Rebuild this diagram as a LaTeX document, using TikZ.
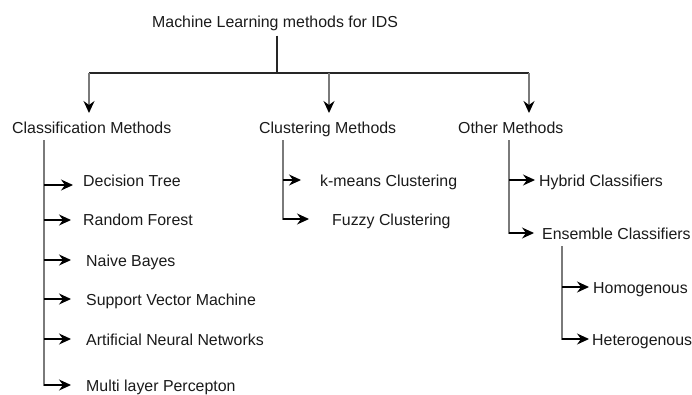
\documentclass[tikz,border=0pt]{standalone}
\usepackage{fontspec}
\setmainfont{Liberation Sans}
\usetikzlibrary{arrows.meta}
\definecolor{txt}{HTML}{1A1A1A}
\definecolor{ln}{HTML}{7A7A7A}
\tikzset{
  lbl/.style={anchor=base west,inner sep=0pt,text=txt,font=\fontsize{15.9}{18}\selectfont},
  wire/.style={draw=ln,line width=1.8pt},
  tipd/.style={-{Stealth[length=12pt,width=11pt,inset=4pt,color=black]}},
  arr/.style={draw=black,line width=1.1pt,tipd},
  varr/.style={wire,line width=1.5pt,tipd},
}
\begin{document}
\begin{tikzpicture}[x=1pt,y=-1pt]
\useasboundingbox (0,0) rectangle (692,394);
% nodes
\node[lbl] (title) at (152,27) {Machine Learning methods for IDS};
\node[lbl] (cls) at (12,133) {Classification Methods};
\node[lbl] (clu) at (259,133) {Clustering Methods};
\node[lbl] (oth) at (458,133) {Other Methods};
\node[lbl] (dt) at (83,186) {Decision Tree};
\node[lbl] (rf) at (83,225) {Random Forest};
\node[lbl] (nb) at (86,266) {Naive Bayes};
\node[lbl] (svm) at (86,305) {Support Vector Machine};
\node[lbl] (ann) at (86,345) {Artificial Neural Networks};
\node[lbl] (mlp) at (86,391) {Multi layer Percepton};
\node[lbl] (km) at (320,186) {k-means Clustering};
\node[lbl] (fz) at (332,225) {Fuzzy Clustering};
\node[lbl] (hyb) at (539,186) {Hybrid Classifiers};
\node[lbl] (ens) at (542,239) {Ensemble Classifiers};
\node[lbl] (hom) at (593,293) {Homogenous};
\node[lbl] (het) at (592,345) {Heterogenous};
% junction coordinates
\coordinate (tj) at (277,73);
\coordinate (tl) at (89,73);
\coordinate (tr) at (529,73);
\coordinate (a1) at (89,113);
\coordinate (a2) at (329,113);
\coordinate (a3) at (529,113);
% top tree
\draw[draw=black!85,line width=1.2pt] (tj |- title.south) ++(0,5) -- (tj);
\draw[draw=black!85,line width=1.2pt] (tl) -- (tr);
\draw[varr] (tl) -- (a1);
\draw[varr] (tr) -- (a3);
\draw[varr] (329,73) -- (a2);
% classification spine
\coordinate (cs) at (44,140);
\draw[wire] (cs) -- (44,385.9);
\draw[arr] (44,185) -- (73,185);
\draw[arr] (44,220) -- (71,220);
\draw[arr] (44,260) -- (71,260);
\draw[arr] (44,299) -- (71,299);
\draw[arr] (44,339) -- (71,339);
\draw[arr] (44,385) -- (71,385);
% clustering spine
\draw[wire] (283,140) -- (283,219.9);
\draw[arr] (283,180) -- (301,180);
\draw[arr] (283,219) -- (309,219);
% other spine
\draw[wire] (509,140) -- (509,233.9);
\draw[arr] (509,180) -- (535,180);
\draw[arr] (509,233) -- (534,233);
% ensemble spine
\draw[wire] (562,246) -- (562,339.9);
\draw[arr] (562,287) -- (589,287);
\draw[arr] (562,339) -- (589,339);
\end{tikzpicture}
\end{document}
